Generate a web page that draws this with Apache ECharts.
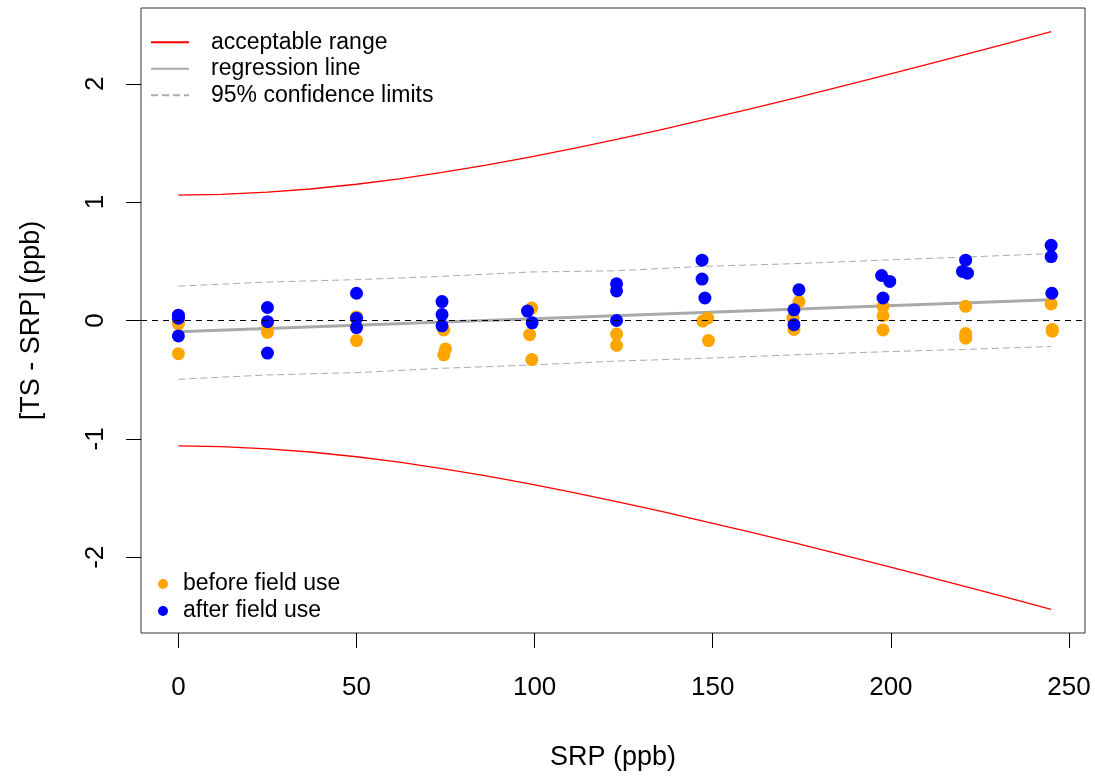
<!DOCTYPE html>
<html>
<head>
<meta charset="utf-8">
<script src="https://cdn.jsdelivr.net/npm/echarts@6/dist/echarts.min.js"></script>
<style>
html,body{margin:0;padding:0;background:#fff;}
#chart{width:1095px;height:776px;}
</style>
</head>
<body>
<div id="chart"></div>
<script>
// ---- data ----
const xTicks = [0, 50, 100, 150, 200, 250];
const yTicks = [-2, -1, 0, 1, 2];

const beforeX = [0, 0, 0, 25, 25, 50, 50, 50, 74.5, 75, 74.5, 99.2, 98.6, 99.2, 123, 123, 148.6, 147.2, 148.8, 174.2, 172.5, 172.8, 197.8, 197.8, 197.8, 221, 221, 221, 245, 245.3, 245.3];
const beforeY = [0.01, -0.03, -0.28, -0.03, -0.10, 0.03, -0.05, -0.17, -0.08, -0.24, -0.29, 0.105, -0.12, -0.33, -0.115, -0.21, 0.02, -0.005, -0.17, 0.16, 0.02, -0.075, 0.12, 0.04, -0.08, 0.12, -0.11, -0.15, 0.14, -0.075, -0.09];

const afterX = [0, 0, 0, 25, 25, 25, 50, 50, 50, 74, 74, 74, 98, 99.3, 123, 123, 123, 147, 147, 147.8, 174.2, 172.8, 172.8, 197.4, 199.7, 197.8, 221, 220.1, 221.5, 245, 245, 245.2];
const afterY = [0.045, 0.02, -0.13, 0.11, -0.01, -0.275, 0.23, 0.02, -0.06, 0.16, 0.05, -0.045, 0.08, -0.02, 0.31, 0.25, 0.0, 0.51, 0.35, 0.19, 0.26, 0.09, -0.035, 0.38, 0.33, 0.19, 0.51, 0.415, 0.40, 0.635, 0.54, 0.23];

const limitX = [0, 12, 25, 37, 50, 62, 74, 86, 99, 111, 123, 135, 147, 160, 173, 185, 198, 210, 221, 233, 245];
const acceptUpper = [1.060, 1.065, 1.084, 1.111, 1.151, 1.197, 1.251, 1.311, 1.383, 1.454, 1.530, 1.609, 1.692, 1.784, 1.879, 1.969, 2.068, 2.162, 2.248, 2.343, 2.440];
const acceptLower = [-1.060, -1.065, -1.084, -1.111, -1.151, -1.197, -1.251, -1.311, -1.383, -1.454, -1.530, -1.609, -1.692, -1.784, -1.879, -1.969, -2.068, -2.162, -2.248, -2.343, -2.440];

const ciX = [0, 25, 50, 74, 99, 123, 147, 173, 198, 221, 245];
const ciUpper = [0.29, 0.325, 0.345, 0.373, 0.41, 0.42, 0.457, 0.48, 0.51, 0.536, 0.565];
const ciLower = [-0.497, -0.46, -0.44, -0.404, -0.376, -0.343, -0.32, -0.29, -0.264, -0.244, -0.22];

const regX = [0, 245];
const regY = [-0.095, 0.175];

// ---- helpers ----
const zip = (a, b) => a.map((v, i) => [v, b[i]]);
const FONT = "'Liberation Sans', Arial, sans-serif";

const chart = echarts.init(document.getElementById('chart'), null, {renderer: 'canvas'});

const redStyle = {color: '#FF0000', width: 1.3};
const ciStyle = {color: '#AAAAAA', width: 1, type: [7, 4]};

chart.setOption({
  animation: false,
  backgroundColor: '#fff',
  grid: {left: 141, right: 10, top: 8, bottom: 141, show: true, borderColor: '#333', borderWidth: 1, backgroundColor: 'transparent'},
  xAxis: {
    type: 'value', min: -10.5, max: 254.5,
    name: 'SRP (ppb)', nameLocation: 'middle', nameGap: 111,
    nameTextStyle: {fontFamily: FONT, fontSize: 27, color: '#000'},
    axisLine: {show: false, onZero: false},
    axisTick: {show: true, inside: false, length: 15, customValues: xTicks, lineStyle: {color: '#000', width: 1}},
    axisLabel: {show: true, customValues: xTicks, margin: 42, fontFamily: FONT, fontSize: 26, color: '#000'},
    splitLine: {show: false}
  },
  yAxis: {
    type: 'value', min: -2.64, max: 2.64,
    name: '[TS - SRP] (ppb)', nameLocation: 'middle', nameGap: 96, nameRotate: 90,
    nameTextStyle: {fontFamily: FONT, fontSize: 27, color: '#000'},
    axisLine: {show: false, onZero: false},
    axisTick: {show: true, inside: false, length: 15, customValues: yTicks, lineStyle: {color: '#000', width: 1}},
    axisLabel: {show: true, customValues: yTicks, rotate: 90, margin: 32, fontFamily: FONT, fontSize: 26, color: '#000'},
    splitLine: {show: false}
  },
  legend: [
    {
      orient: 'vertical', left: 145, top: 24, itemGap: 0, itemWidth: 38, itemHeight: 14,
      data: ['acceptable range', 'regression line', '95% confidence limits'],
      itemStyle: {opacity: 0},
      textStyle: {fontFamily: FONT, fontSize: 23, color: '#000', lineHeight: 26.5, padding: [0, 0, 0, 17]},
      selectedMode: false
    },
    {
      orient: 'vertical', left: 153, top: 565.5, itemGap: 0, itemWidth: 10, itemHeight: 10,
      data: [{name: 'before field use', icon: 'circle'}, {name: 'after field use', icon: 'circle'}],
      textStyle: {fontFamily: FONT, fontSize: 23, color: '#000', lineHeight: 27, padding: [0, 0, 0, 10]},
      selectedMode: false
    }
  ],
  series: [
    {name: 'acceptable range', type: 'line', data: zip(limitX, acceptUpper), symbol: 'none', lineStyle: redStyle, itemStyle: {color: '#FF0000'}, z: 2},
    {name: 'acceptable range', type: 'line', data: zip(limitX, acceptLower), symbol: 'none', lineStyle: redStyle, itemStyle: {color: '#FF0000'}, z: 2},
    {name: '95% confidence limits', type: 'line', data: zip(ciX, ciUpper), symbol: 'none', lineStyle: ciStyle, itemStyle: {color: '#AAAAAA'}, z: 2},
    {name: '95% confidence limits', type: 'line', data: zip(ciX, ciLower), symbol: 'none', lineStyle: ciStyle, itemStyle: {color: '#AAAAAA'}, z: 2},
    {
      name: 'regression line', type: 'line', data: zip(regX, regY), symbol: 'none',
      lineStyle: {color: '#A9A9A9', width: 3}, itemStyle: {color: '#A9A9A9'}, z: 2,
      markLine: {silent: true, symbol: 'none', label: {show: false},
        lineStyle: {color: '#000', width: 1, type: [6, 5]},
        data: [{yAxis: 0}]}
    },
    {name: 'before field use', type: 'scatter', data: zip(beforeX, beforeY), symbol: 'circle', symbolSize: 13, itemStyle: {color: '#FFA500', opacity: 1}, z: 3},
    {name: 'after field use', type: 'scatter', data: zip(afterX, afterY), symbol: 'circle', symbolSize: 13, itemStyle: {color: '#0000FF', opacity: 1}, z: 4}
  ]
});
</script>
</body>
</html>
